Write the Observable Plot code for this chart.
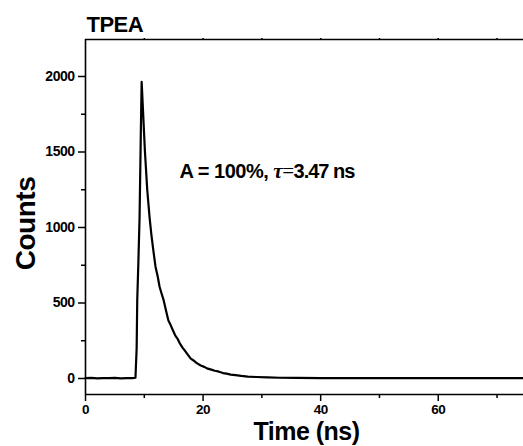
<!DOCTYPE html>
<html>
<head>
<meta charset="utf-8">
<script src="https://cdn.jsdelivr.net/npm/d3@7"></script>
<script src="https://cdn.jsdelivr.net/npm/@observablehq/plot@0.6"></script>
<style>
  html, body { margin: 0; padding: 0; background: #fff; overflow: hidden; }
  #chart svg { display: block; }
</style>
</head>
<body>
<div id="chart"></div>
<script>
// Decay curve (time in ns, photon counts)
const time = [0,1,2,3,4,5,6,7,8,8.5,8.7,8.8,9.0,9.2,9.4,9.55,9.8,10.1,10.5,10.9,11.2,11.5,11.9,12.3,12.6,12.9,13.3,13.7,14.1,14.5,14.9,15.3,15.7,16.1,16.5,16.9,17.3,17.9,18.4,19.0,19.6,20.2,20.8,21.4,22.0,22.7,23.4,24.0,24.7,25.5,26.5,27.6,29,31,33,36,40,45,50,55,60,65,70,74.5];
const counts = [2,4,1,3,2,4,1,3,2,5,200,517,780,1073,1600,1965,1760,1510,1250,1066,955,860,742,672,608,568,517,448,384,352,316,282,260,229,205,184,163,132,119,100,86,77,65,59,51,45,36,32,26,22,17,13,10,7,5,4,3,2,3,2,2,3,2,2];

const xTicks = [0, 20, 40, 60];
const xMinor = [10, 30, 50, 70];
const xTop = [10, 20, 30, 40, 50, 60, 70];
const yTicks = [0, 500, 1000, 1500, 2000];
const yMinor = [250, 750, 1250, 1750];

const title = "TPEA";
const xLabel = "Time (ns)";
const yLabel = "Counts";
const annotation = "A = 100%, τ=3.47 ns";
const annotationPos = {x: 16.0, y: 1331};

const xDomain = [0, 74.5];
const yDomain = [-106, 2245];

const data = time.map((t, i) => ({t, c: counts[i]}));
const ink = "#000";
const noText = () => "";
const plain = d => String(d);

const plot = Plot.plot({
  width: 523,
  height: 446,
  marginLeft: 85,
  marginRight: 0,
  marginTop: 39,
  marginBottom: 52,
  style: {fontFamily: "'Liberation Sans', Arial, sans-serif", background: "#fff", overflow: "visible", color: ink, letterSpacing: "-0.5px"},
  x: {domain: xDomain},
  y: {domain: yDomain},
  marks: [
    Plot.ruleX([xDomain[0]], {stroke: ink, strokeWidth: 1.6}),
    Plot.ruleY([yDomain[0]], {stroke: ink, strokeWidth: 1.6}),
    Plot.ruleY([yDomain[1]], {stroke: ink, strokeWidth: 1.6}),
    Plot.axisX(xTicks, {anchor: "bottom", tickSize: 7, tickPadding: 3, tickFormat: plain, fontSize: 13.5, fontWeight: "bold", label: null, strokeWidth: 1.5}),
    Plot.axisX(xMinor, {anchor: "bottom", tickSize: 4, tickFormat: noText, label: null, strokeWidth: 1.5}),
    Plot.axisX(xTop, {anchor: "top", tickSize: 2, tickFormat: noText, label: null, strokeWidth: 1.5}),
    Plot.axisY(yTicks, {anchor: "left", tickSize: 7, tickPadding: 4, tickFormat: plain, fontSize: 14, fontWeight: "bold", label: null, strokeWidth: 1.5}),
    Plot.axisY(yMinor, {anchor: "left", tickSize: 4, tickFormat: noText, label: null, strokeWidth: 1.5}),
    Plot.line(data, {x: "t", y: "c", stroke: ink, strokeWidth: 2.2, curve: "linear"}),
    Plot.text([title], {text: d => d, frameAnchor: "top-left", textAnchor: "start", lineAnchor: "bottom", dx: 1, dy: -8, fontSize: 22, fontWeight: "bold"}),
    Plot.text([xLabel], {text: d => d, frameAnchor: "bottom", textAnchor: "middle", lineAnchor: "bottom", dx: 2, dy: 45.5, fontSize: 25, fontWeight: "bold"}),
    Plot.text([yLabel], {text: d => d, frameAnchor: "left", textAnchor: "middle", lineAnchor: "middle", rotate: -90, dx: -59, dy: 6.5, fontSize: 28, fontWeight: "bold"}),
    Plot.text([annotation], {text: d => d, x: annotationPos.x, y: annotationPos.y, textAnchor: "start", lineAnchor: "bottom", fontSize: 20, fontWeight: "bold"})
  ]
});

// Style the annotation: Greek tau in italic serif
d3.select(plot).selectAll("text").filter(function () { return this.textContent === annotation; }).each(function () {
  const t = d3.select(this);
  t.text(null);
  t.append("tspan").text("A = 100%, ");
  t.append("tspan").attr("font-family", "'Liberation Serif', 'Times New Roman', serif").attr("font-style", "italic").attr("font-weight", "bold").attr("font-size", 21).text("τ");
  t.append("tspan").attr("font-family", "'Liberation Serif', 'Times New Roman', serif").attr("font-weight", "normal").attr("font-size", 21).text("=");
  t.append("tspan").style("letter-spacing", "-1px").text("3.47 ns");
});

document.getElementById("chart").appendChild(plot);
</script>
</body>
</html>
